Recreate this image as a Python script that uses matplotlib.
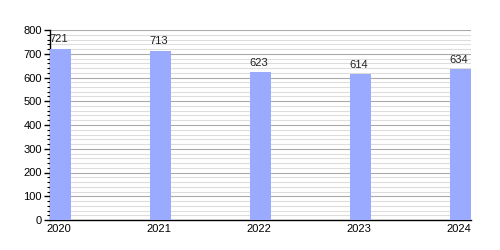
import matplotlib
matplotlib.use("Agg")
import matplotlib.pyplot as plt
from matplotlib.ticker import MultipleLocator

years = ["2020", "2021", "2022", "2023", "2024"]
values = [721, 713, 623, 614, 634]

plt.rcParams['font.family'] = ['Liberation Sans', 'DejaVu Sans']

fig = plt.figure(figsize=(5, 2.5), dpi=100)
ax = fig.add_axes([0.1, 0.12, 0.842, 0.76])

x = list(range(len(years)))
bw = 0.21
ax.bar(x, values, width=bw, align='edge', color='#99AAFF', zorder=3)

for xi, v in zip(x, values):
    ax.text(xi + bw / 2 - 0.02, v + 18, str(v), ha='center', va='bottom',
            fontsize=8, color='#222222', zorder=4)

ax.set_xlim(0, len(years) - 1 + bw)
ax.set_ylim(0, 800)
ax.set_xticks([xi + bw / 2 - 0.02 for xi in x])
ax.set_xticklabels(years, fontsize=8)
ax.tick_params(axis='x', length=0, pad=3)
ax.yaxis.set_major_locator(MultipleLocator(100))
ax.yaxis.set_minor_locator(MultipleLocator(20))
ax.tick_params(axis='y', which='major', length=4, width=1, labelsize=8, pad=2)
ax.tick_params(axis='y', which='minor', length=2, width=0.8)

ax.grid(axis='y', which='major', color='#aaaaaa', linewidth=0.8, zorder=0)
ax.grid(axis='y', which='minor', color='#dddddd', linewidth=0.8, zorder=0)
ax.set_axisbelow(True)

for s in ['top', 'right']:
    ax.spines[s].set_visible(False)
ax.spines['left'].set_linewidth(1)
ax.spines['bottom'].set_linewidth(1)

fig.savefig("out.png", dpi=100)
